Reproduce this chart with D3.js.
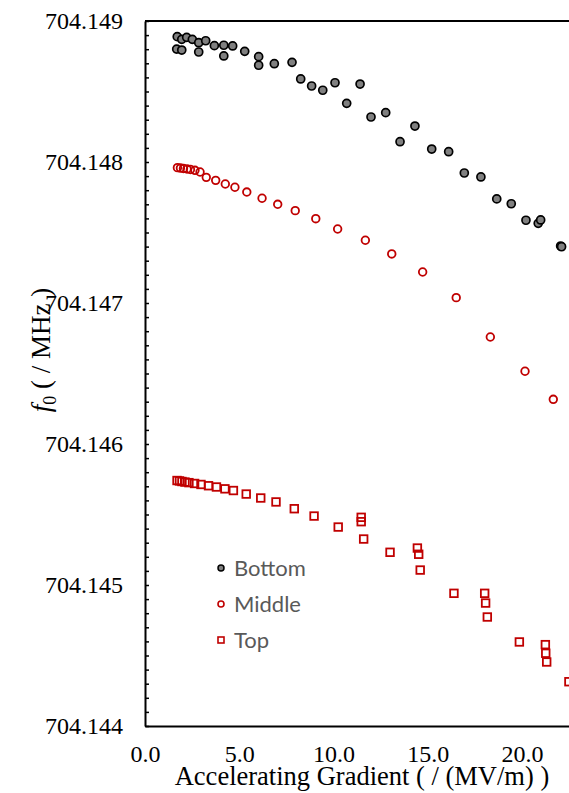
<!DOCTYPE html>
<html>
<head>
<meta charset="utf-8">
<script src="https://cdn.jsdelivr.net/npm/d3@7"></script>
<style>
  body { margin: 0; background: #fff; }
  svg { display: block; }
</style>
</head>
<body>
<svg id="chart"></svg>
<script>
// values
let bottomX = [1.71,1.95,2.21,2.51,2.85,3.22,3.68,4.18,4.65,1.68,1.95,2.85,4.18,5.29,6.03,6.03,6.86,7.80,8.26,8.84,9.43,10.08,11.41,10.70,11.99,12.77,13.53,14.32,15.21,16.11,16.94,17.82,18.66,19.43,20.21,20.86,20.99,22.05,22.10]
let bottomY = [704.148889,704.148870,704.148884,704.148870,704.148846,704.148860,704.148825,704.148828,704.148823,704.148801,704.148794,704.148780,704.148752,704.148785,704.148747,704.148686,704.148697,704.148707,704.148589,704.148539,704.148509,704.148562,704.148553,704.148416,704.148319,704.148350,704.148144,704.148255,704.148092,704.148073,704.147922,704.147894,704.147738,704.147704,704.147587,704.147565,704.147589,704.147404,704.147399]

let middleX = [1.72,1.88,2.04,2.23,2.41,2.65,2.92,3.25,3.75,4.26,4.77,5.40,6.21,7.04,7.97,9.06,10.22,11.69,13.09,14.73,16.51,18.32,20.16,21.66]
let middleY = [704.147960,704.147957,704.147954,704.147950,704.147947,704.147941,704.147929,704.147891,704.147870,704.147844,704.147821,704.147787,704.147743,704.147700,704.147655,704.147598,704.147525,704.147445,704.147348,704.147220,704.147038,704.146759,704.146516,704.146317]

let topX = [1.70,1.83,1.96,2.12,2.33,2.63,2.97,3.37,3.79,4.24,4.69,5.37,6.14,6.95,7.92,8.97,10.25,11.47,11.47,11.60,13.00,14.45,14.52,14.60,16.39,18.02,18.07,18.16,19.86,21.24,21.26,21.31,22.49]
let topY = [704.145741,704.145738,704.145734,704.145730,704.145726,704.145720,704.145713,704.145704,704.145695,704.145682,704.145670,704.145645,704.145617,704.145589,704.145541,704.145489,704.145411,704.145480,704.145449,704.145326,704.145232,704.145262,704.145218,704.145106,704.144941,704.144941,704.144872,704.144773,704.144596,704.144577,704.144516,704.144454,704.144314]

let xTicks = [0, 5, 10, 15, 20]
let yTicks = [704.144, 704.145, 704.146, 704.147, 704.148, 704.149]
let legendNames = ['Bottom', 'Middle', 'Top']

let w = 569
let h = 793
let plotLeft = 145
let plotTop = 21
let plotBottom = 726
let red = '#c00000'

let svg = d3.select('#chart')
   .attr('width', w)
   .attr('height', h)

let xScale = d3.scaleLinear()
   .domain([0, 25])
   .range([plotLeft, plotLeft + 25 * 18.85])

let yScale = d3.scaleLinear()
   .domain([704.144, 704.149])
   .range([plotBottom, plotTop])

// top border of the plot area
svg.append('line')
   .attr('x1', plotLeft).attr('x2', w)
   .attr('y1', plotTop).attr('y2', plotTop)
   .attr('stroke', '#000').attr('stroke-width', 2)

// y axis: labels on the left, small ticks pointing inside
let yAxis = d3.axisLeft(yScale)
   .tickValues(yTicks)
   .tickFormat(d3.format('.3f'))
   .tickSize(0)
   .tickPadding(22)

let gy = svg.append('g')
   .attr('transform', 'translate(' + plotLeft + ',0)')
   .call(yAxis)
gy.select('.domain').attr('stroke-width', 2)
gy.selectAll('text')
   .attr('font-family', '"Liberation Serif", serif')
   .attr('font-size', 24)
   .attr('fill', '#000')

let minor = d3.range(0, 51).map(i => 704.144 + i * 0.0001)
let yTickMarks = d3.axisRight(yScale)
   .tickValues(minor)
   .tickSize(4)
   .tickFormat('')
let gm = svg.append('g')
   .attr('transform', 'translate(' + plotLeft + ',0)')
   .call(yTickMarks)
gm.select('.domain').remove()
gm.selectAll('line').attr('stroke-width', 1.5)

// x axis, no tick marks
let xAxis = d3.axisBottom(xScale)
   .tickValues(xTicks)
   .tickFormat(d3.format('.1f'))
   .tickSize(0)
   .tickPadding(19)

let gx = svg.append('g')
   .attr('transform', 'translate(0,' + plotBottom + ')')
   .call(xAxis)
gx.select('.domain').attr('stroke-width', 2)
gx.selectAll('text')
   .attr('font-family', '"Liberation Serif", serif')
   .attr('font-size', 24)
   .attr('fill', '#000')

// axis titles
svg.append('text')
   .attr('x', 362)
   .attr('y', 785)
   .attr('text-anchor', 'middle')
   .attr('font-family', '"Liberation Serif", serif')
   .attr('font-size', 26.5)
   .text('Accelerating Gradient ( / (MV/m) )')

let yTitle = svg.append('text')
   .attr('transform', 'translate(50,350) rotate(-90)')
   .attr('text-anchor', 'middle')
   .attr('font-family', '"Liberation Serif", serif')
   .attr('font-size', 27)
yTitle.append('tspan').attr('font-style', 'italic').text('f')
yTitle.append('tspan').attr('font-size', 18).attr('dy', 6).text('0')
yTitle.append('tspan').attr('dy', -6).text(' ( / MHz )')

// series
let zip = (xs, ys) => xs.map((x, i) => ({x: x, y: ys[i]}))

svg.append('g').selectAll('circle')
   .data(zip(bottomX, bottomY))
   .enter()
   .append('circle')
   .attr('cx', d => xScale(d.x))
   .attr('cy', d => yScale(d.y))
   .attr('r', 4)
   .attr('fill', '#808080')
   .attr('stroke', '#000')
   .attr('stroke-width', 1.7)

svg.append('g').selectAll('circle')
   .data(zip(middleX, middleY))
   .enter()
   .append('circle')
   .attr('cx', d => xScale(d.x))
   .attr('cy', d => yScale(d.y))
   .attr('r', 3.8)
   .attr('fill', 'none')
   .attr('stroke', red)
   .attr('stroke-width', 1.8)

svg.append('g').selectAll('rect')
   .data(zip(topX, topY))
   .enter()
   .append('rect')
   .attr('x', d => xScale(d.x) - 3.8)
   .attr('y', d => yScale(d.y) - 3.8)
   .attr('width', 7.6)
   .attr('height', 7.6)
   .attr('fill', 'none')
   .attr('stroke', red)
   .attr('stroke-width', 1.8)

// legend
let legend = svg.append('g').attr('transform', 'translate(221,568)')
legendNames.forEach((name, i) => {
   let g = legend.append('g').attr('transform', 'translate(0,' + i * 36 + ')')
   if (i == 0) {
      g.append('circle').attr('r', 3).attr('fill', '#808080').attr('stroke', '#000').attr('stroke-width', 1.5)
   } else if (i == 1) {
      g.append('circle').attr('r', 3).attr('fill', 'none').attr('stroke', red).attr('stroke-width', 1.6)
   } else {
      g.append('rect').attr('x', -3).attr('y', -3).attr('width', 6).attr('height', 6)
         .attr('fill', 'none').attr('stroke', red).attr('stroke-width', 1.6)
   }
   g.append('text')
      .attr('x', 13)
      .attr('y', 8)
      .attr('font-family', 'Lato, "Open Sans", sans-serif')
      .attr('font-size', 22)
      .attr('fill', '#595959')
      .text(name)
})
</script>
</body>
</html>
